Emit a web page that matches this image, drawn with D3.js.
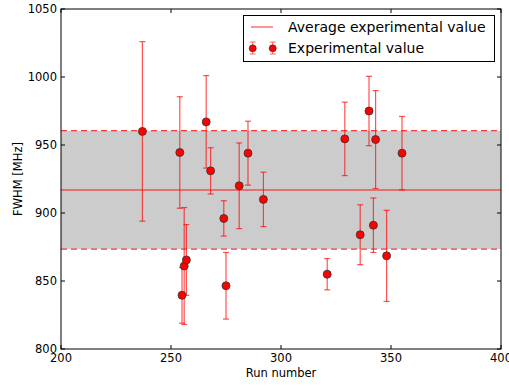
<!DOCTYPE html>
<html><head><meta charset="utf-8">
<script src="https://cdn.jsdelivr.net/npm/d3@7"></script>
<style>body{margin:0;background:#fff}svg{display:block}text{font-family:"DejaVu Sans",sans-serif;fill:#000}</style>
</head><body><div id="chart"></div>
<script>
const runs   = [237, 254, 255, 256, 257, 266, 268, 274, 275, 281, 285, 292, 321, 329, 336, 340, 342, 343, 348, 355];
const fwhm   = [960, 944.5, 839.5, 861, 865.5, 967, 931, 896, 846.5, 920, 944, 910, 855, 954.5, 884, 975, 891, 954, 868.5, 944];
const errors = [66, 41, 20.5, 43, 26, 34, 17, 13, 24.5, 31.5, 23.5, 20, 11.5, 27, 22, 25.5, 20, 36, 33.5, 27];
const avgValue = 917;
const avgStd = 43.5;
const xTicks = [200, 250, 300, 350, 400];
const yTicks = [800, 850, 900, 950, 1000, 1050];
const legendLabels = ["Average experimental value", "Experimental value"];

const W = 509, H = 387;
const m = {l: 61, r: 8, t: 9, b: 38};
const svg = d3.select("#chart").append("svg").attr("width", W).attr("height", H);
const x = d3.scaleLinear().domain([200, 400]).range([m.l, W - m.r]);
const y = d3.scaleLinear().domain([800, 1050]).range([H - m.b, m.t]);

// band
svg.append("rect").attr("x", x(200)).attr("width", x(400) - x(200))
  .attr("y", y(avgValue + avgStd)).attr("height", y(avgValue - avgStd) - y(avgValue + avgStd))
  .attr("fill", "#cccccc");
[avgValue + avgStd, avgValue - avgStd].forEach(v => {
  svg.append("line").attr("x1", x(200)).attr("x2", x(400)).attr("y1", y(v)).attr("y2", y(v))
    .attr("stroke", "#ff1a1a").attr("stroke-opacity", 0.85).attr("stroke-width", 1.3).attr("stroke-dasharray", "6,4");
});
svg.append("line").attr("x1", x(200)).attr("x2", x(400)).attr("y1", y(avgValue)).attr("y2", y(avgValue))
  .attr("stroke", "#ff0000").attr("stroke-opacity", 0.6).attr("stroke-width", 1.5);

// error bars
const data = runs.map((r, i) => ({r, v: fwhm[i], e: errors[i]}));
const eb = svg.append("g").attr("stroke", "#ff0000").attr("stroke-opacity", 0.68).attr("stroke-width", 1.2);
data.forEach(d => {
  const g = eb.append("g");
  g.append("line").attr("x1", x(d.r)).attr("x2", x(d.r)).attr("y1", y(d.v - d.e)).attr("y2", y(d.v + d.e));
  [d.v - d.e, d.v + d.e].forEach(c => g.append("line").attr("x1", x(d.r) - 3).attr("x2", x(d.r) + 3).attr("y1", y(c)).attr("y2", y(c)));
});
svg.append("g").selectAll("circle").data(data).join("circle")
  .attr("cx", d => x(d.r)).attr("cy", d => y(d.v)).attr("r", 4)
  .attr("fill", "#ff0000").attr("stroke", "#333").attr("stroke-width", 0.8);

// axes frame
const ax = svg.append("g");
ax.append("rect").attr("x", x(200)).attr("y", y(1050)).attr("width", x(400) - x(200)).attr("height", y(800) - y(1050))
  .attr("fill", "none").attr("stroke", "#000").attr("stroke-width", 1);
const tl = 4;
xTicks.forEach(t => {
  ax.append("line").attr("x1", x(t)).attr("x2", x(t)).attr("y1", y(800)).attr("y2", y(800) - tl).attr("stroke", "#000");
  ax.append("line").attr("x1", x(t)).attr("x2", x(t)).attr("y1", y(1050)).attr("y2", y(1050) + tl).attr("stroke", "#000");
  ax.append("text").attr("x", x(t)).attr("y", y(800) + 13).attr("text-anchor", "middle").attr("font-size", 11.5).text(t);
});
yTicks.forEach(t => {
  ax.append("line").attr("x1", x(200)).attr("x2", x(200) + tl).attr("y1", y(t)).attr("y2", y(t)).attr("stroke", "#000");
  ax.append("line").attr("x1", x(400)).attr("x2", x(400) - tl).attr("y1", y(t)).attr("y2", y(t)).attr("stroke", "#000");
  ax.append("text").attr("x", x(200) - 4).attr("y", y(t) + 4).attr("text-anchor", "end").attr("font-size", 11.5).text(t);
});
svg.append("text").attr("x", (x(200) + x(400)) / 2).attr("y", 377).attr("text-anchor", "middle").attr("font-size", 11.5).text("Run number");
svg.append("text").attr("transform", `translate(22,${(y(800) + y(1050)) / 2}) rotate(-90)`).attr("text-anchor", "middle").attr("font-size", 11.5).text("FWHM [MHz]");

// legend
const lg = svg.append("g");
lg.append("rect").attr("x", 243.5).attr("y", 15.5).attr("width", 251).attr("height", 46).attr("fill", "#fff").attr("stroke", "#000");
lg.append("line").attr("x1", 251).attr("x2", 273).attr("y1", 27).attr("y2", 27).attr("stroke", "#ff0000").attr("stroke-opacity", 0.7).attr("stroke-width", 1.2);
lg.append("text").attr("x", 288).attr("y", 32).attr("font-size", 14).text(legendLabels[0]);
[252.7, 272.7].forEach(cx => {
  const g = lg.append("g").attr("stroke", "#ff0000").attr("stroke-opacity", 0.6);
  g.append("line").attr("x1", cx).attr("x2", cx).attr("y1", 42).attr("y2", 54);
  [42, 54].forEach(cy => g.append("line").attr("x1", cx - 3).attr("x2", cx + 3).attr("y1", cy).attr("y2", cy));
  lg.append("circle").attr("cx", cx).attr("cy", 48.3).attr("r", 3.5).attr("fill", "#ff0000").attr("stroke", "#333").attr("stroke-width", 0.7);
});
lg.append("text").attr("x", 288).attr("y", 53).attr("font-size", 14).text(legendLabels[1]);
</script></body></html>
